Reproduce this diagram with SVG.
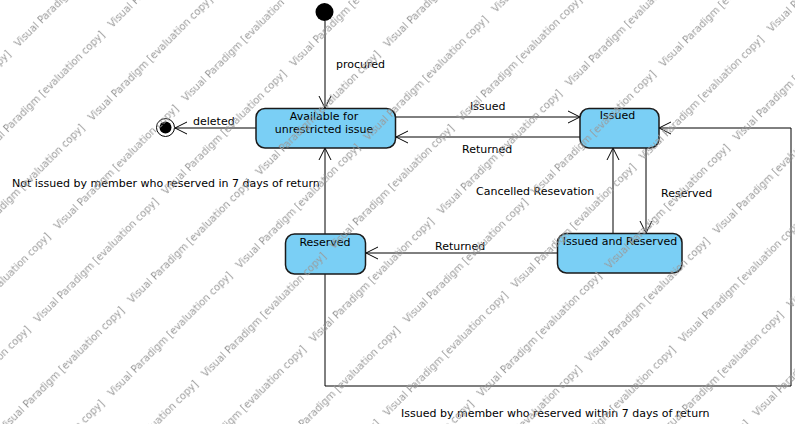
<svg xmlns="http://www.w3.org/2000/svg" width="795" height="424" viewBox="0 0 795 424">
<style>
text { font-family: "DejaVu Sans", "Liberation Sans", sans-serif; font-size: 11px; fill: #000; }
.state { fill: #7ACFF5; stroke: #1a1a1a; stroke-width: 1.5; }
.conn { fill: none; stroke: #000; stroke-width: 1; marker-end: url(#open); }
.wm { font-size: 10px; fill: #9a9a9a; }
.mid { text-anchor: middle; }
</style>
<defs>
<marker id="open" viewBox="0 0 13 14" refX="12" refY="7" markerWidth="13" markerHeight="14" markerUnits="userSpaceOnUse" orient="auto">
<path d="M0,1 L12,7 L0,13" fill="none" stroke="#000" stroke-width="1"/>
</marker>
<pattern id="wmark" patternUnits="userSpaceOnUse" x="160.5" y="6.9" width="181" height="104.4" patternTransform="rotate(-45)">
<text class="wm" x="0" y="40">Visual Paradigm [evaluation copy]</text>
<text class="wm" x="80" y="92.2">Visual Paradigm [evaluation copy]</text>
<text class="wm" x="-101" y="92.2">Visual Paradigm [evaluation copy]</text>
</pattern>
</defs>
<rect width="795" height="424" fill="#fff"/>

<g id="connectors">
<path class="conn" d="M325,21 V108"/>
<path class="conn" d="M256,128 H175"/>
<path class="conn" d="M396,117 H580"/>
<path class="conn" d="M580,137 H396"/>
<path class="conn" d="M613,233 V148"/>
<path class="conn" d="M646,148 V233"/>
<path class="conn" d="M557,253 H366"/>
<path class="conn" d="M325,234 V148"/>
<path class="conn" d="M325,274 V386 H791 V128 H659"/>
<text x="336" y="68">procured</text>
<text x="193" y="125">deleted</text>
<text x="470" y="110">Issued</text>
<text x="462" y="153">Returned</text>
<text x="476" y="195">Cancelled Resevation</text>
<text x="661" y="197">Reserved</text>
<text x="435" y="250">Returned</text>
<text x="12" y="187">Not issued by member who reserved in 7 days of return</text>
<text x="401" y="417">Issued by member who reserved within 7 days of return</text>
</g>

<g id="initial">
<circle cx="324.5" cy="12" r="9" fill="#000"/>
</g>

<g id="final">
<circle cx="165.5" cy="127.5" r="9" fill="#fff" stroke="#000" stroke-width="1"/>
<circle cx="165.5" cy="127.5" r="6" fill="#000"/>
</g>

<g id="available">
<rect class="state" x="256" y="108.5" width="139.5" height="39.5" rx="9" ry="9"/>
<text class="mid" x="324" y="119.5">Available for</text>
<text class="mid" x="324" y="133">unrestricted issue</text>
</g>

<g id="issued">
<rect class="state" x="580" y="108.5" width="79" height="39.5" rx="9" ry="9"/>
<text class="mid" x="617.5" y="119">Issued</text>
</g>

<g id="issued-and-reserved">
<rect class="state" x="557.5" y="233.5" width="124.5" height="39.5" rx="9" ry="9"/>
<text class="mid" x="620" y="244.5">Issued and Reserved</text>
</g>

<g id="reserved">
<rect class="state" x="285.5" y="234" width="80" height="40" rx="9" ry="9"/>
<text class="mid" x="325" y="245.5">Reserved</text>
</g>

<rect id="watermark" width="795" height="424" fill="url(#wmark)" pointer-events="none"/>
</svg>
